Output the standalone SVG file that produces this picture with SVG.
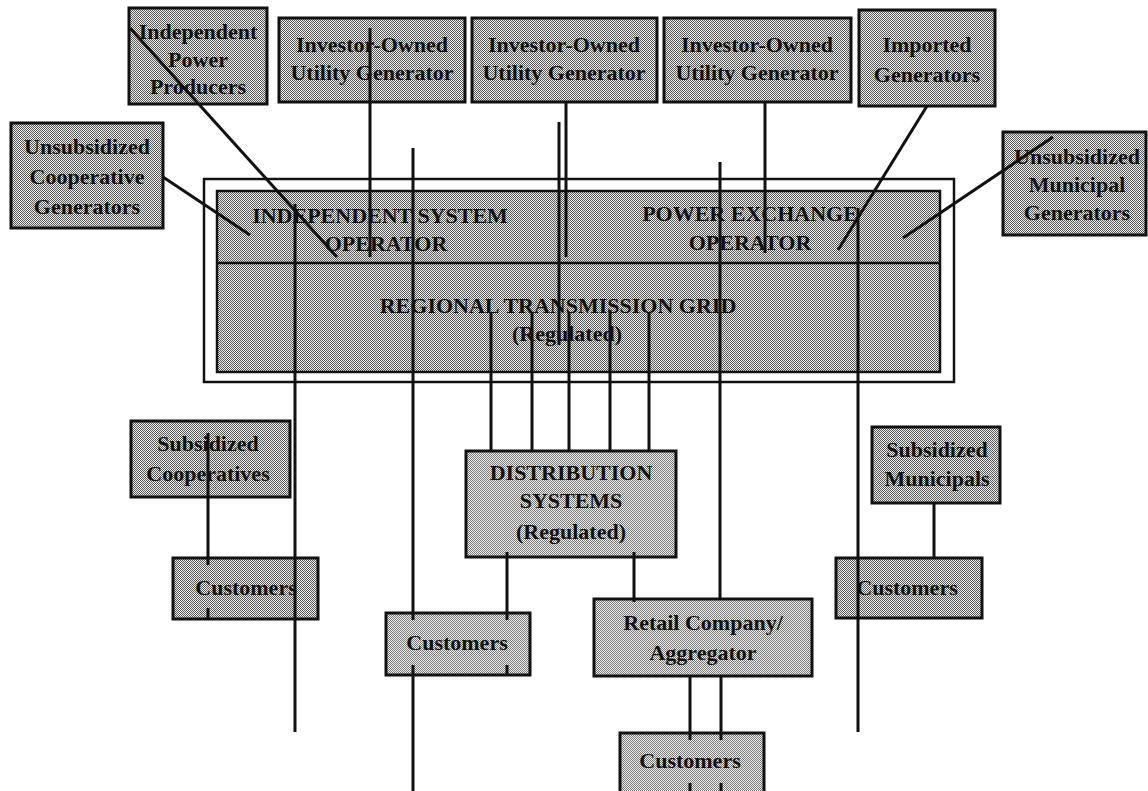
<svg xmlns="http://www.w3.org/2000/svg" width="1148" height="791" viewBox="0 0 1148 791">
<defs>
<pattern id="htDark" width="2" height="2" patternUnits="userSpaceOnUse"><rect width="2" height="2" fill="#f2f2f2"/><rect width="1" height="1" fill="#555555"/><rect x="1" y="1" width="1" height="1" fill="#555555"/></pattern>
<pattern id="htLight" width="2" height="2" patternUnits="userSpaceOnUse"><rect width="2" height="2" fill="#f5f5f5"/><rect width="1" height="1" fill="#747474"/><rect x="1" y="1" width="1" height="1" fill="#747474"/></pattern>
<style>
.box{fill:url(#htDark);stroke:#111;stroke-width:3}
.boxl{fill:url(#htLight);stroke:#111;stroke-width:3}
.band{fill:url(#htDark);stroke:#111;stroke-width:2.5}
.frame{fill:#fff;stroke:#111;stroke-width:2.5}
text{font-family:"Liberation Serif","Times New Roman",serif;font-size:22px;font-weight:bold;fill:#111;text-anchor:middle}
.ln{stroke:#111;stroke-width:3;fill:none}
</style>
</defs>
<rect width="1148" height="791" fill="#fff"/>

<g id="ipp"><rect class="box" x="129" y="8" width="138" height="96"/><text x="198" y="39">Independent</text><text x="198" y="67">Power</text><text x="198" y="94">Producers</text></g>
<g id="iou1"><rect class="box" x="279" y="18" width="186" height="84"/><text x="372" y="52">Investor-Owned</text><text x="372" y="80">Utility Generator</text></g>
<g id="iou2"><rect class="box" x="472" y="18" width="185" height="84"/><text x="564" y="52">Investor-Owned</text><text x="564" y="80">Utility Generator</text></g>
<g id="iou3"><rect class="box" x="664" y="18" width="187" height="84"/><text x="757" y="52">Investor-Owned</text><text x="757" y="80">Utility Generator</text></g>
<g id="imported"><rect class="box" x="859" y="10" width="136" height="96"/><text x="927" y="52">Imported</text><text x="927" y="82">Generators</text></g>
<g id="coop-gen"><rect class="box" x="11" y="123" width="152" height="105"/><text x="87" y="154">Unsubsidized</text><text x="87" y="184">Cooperative</text><text x="87" y="214">Generators</text></g>
<g id="muni-gen"><rect class="box" x="1003" y="132" width="143" height="103"/><text x="1077" y="164">Unsubsidized</text><text x="1077" y="192">Municipal</text><text x="1077" y="220">Generators</text></g>

<g id="market">
<rect class="frame" x="204" y="179" width="750" height="203"/>
<rect class="band" x="217" y="191" width="723" height="181"/>
<line class="ln" x1="217" y1="263" x2="940" y2="263" style="stroke-width:2.5"/>
<g id="iso"><text x="380" y="223">INDEPENDENT SYSTEM</text><text x="386" y="251">OPERATOR</text></g>
<g id="px"><text x="750" y="221">POWER  EXCHANGE</text><text x="750" y="250">OPERATOR</text></g>
<g id="rtg"><text x="558" y="313">REGIONAL TRANSMISSION GRID</text><text x="567" y="341">(Regulated)</text></g>
</g>

<g id="sub-coop"><rect class="box" x="131" y="421" width="159" height="76"/><text x="208" y="451">Subsidized</text><text x="208" y="481">Cooperatives</text></g>
<g id="cust-left"><rect class="box" x="173" y="558" width="145" height="61"/><text x="246" y="595">Customers</text></g>
<g id="distribution"><rect class="boxl" x="466" y="451" width="210" height="106"/><text x="571" y="480">DISTRIBUTION</text><text x="571" y="508">SYSTEMS</text><text x="571" y="539">(Regulated)</text></g>
<g id="cust-center"><rect class="boxl" x="386" y="613" width="144" height="62"/><text x="457" y="650">Customers</text></g>
<g id="retail"><rect class="boxl" x="594" y="599" width="218" height="77"/><text x="703" y="630">Retail Company/</text><text x="703" y="660">Aggregator</text></g>
<g id="cust-bottom"><rect class="boxl" x="620" y="733" width="144" height="70"/><text x="690" y="768">Customers</text></g>
<g id="sub-muni"><rect class="box" x="872" y="427" width="128" height="76"/><text x="937" y="457">Subsidized</text><text x="937" y="486">Municipals</text></g>
<g id="cust-right"><rect class="box" x="836" y="558" width="146" height="60"/><text x="907" y="595">Customers</text></g>

<g id="connectors">
<line class="ln" x1="163" y1="177" x2="250" y2="235"/>
<line class="ln" x1="130" y1="28" x2="337" y2="257"/>
<line class="ln" x1="370" y1="28" x2="370" y2="257"/>
<line class="ln" x1="295" y1="204" x2="295" y2="732"/>
<line class="ln" x1="413" y1="148" x2="413" y2="620"/>
<line class="ln" x1="413" y1="665" x2="413" y2="791"/>
<line class="ln" x1="559" y1="122" x2="559" y2="345"/>
<line class="ln" x1="566" y1="103" x2="566" y2="257"/>
<line class="ln" x1="765" y1="103" x2="765" y2="253"/>
<line class="ln" x1="720" y1="162" x2="720" y2="599"/>
<line class="ln" x1="927" y1="106" x2="838" y2="250"/>
<line class="ln" x1="1053" y1="137" x2="903" y2="238"/>
<line class="ln" x1="858" y1="208" x2="858" y2="732"/>
<line class="ln" x1="491" y1="313" x2="491" y2="451"/>
<line class="ln" x1="532" y1="312" x2="532" y2="451"/>
<line class="ln" x1="569" y1="312" x2="569" y2="451"/>
<line class="ln" x1="610" y1="310" x2="610" y2="451"/>
<line class="ln" x1="649" y1="312" x2="649" y2="451"/>
<line class="ln" x1="208" y1="433" x2="208" y2="565"/>
<line class="ln" x1="208" y1="608" x2="208" y2="620"/>
<line class="ln" x1="507" y1="552" x2="507" y2="620"/>
<line class="ln" x1="507" y1="665" x2="507" y2="675"/>
<line class="ln" x1="634" y1="552" x2="634" y2="602"/>
<line class="ln" x1="690" y1="676" x2="690" y2="740"/>
<line class="ln" x1="721" y1="676" x2="721" y2="740"/>
<line class="ln" x1="690" y1="783" x2="690" y2="791"/>
<line class="ln" x1="721" y1="783" x2="721" y2="791"/>
<line class="ln" x1="934" y1="503" x2="934" y2="557"/>
</g>
</svg>
